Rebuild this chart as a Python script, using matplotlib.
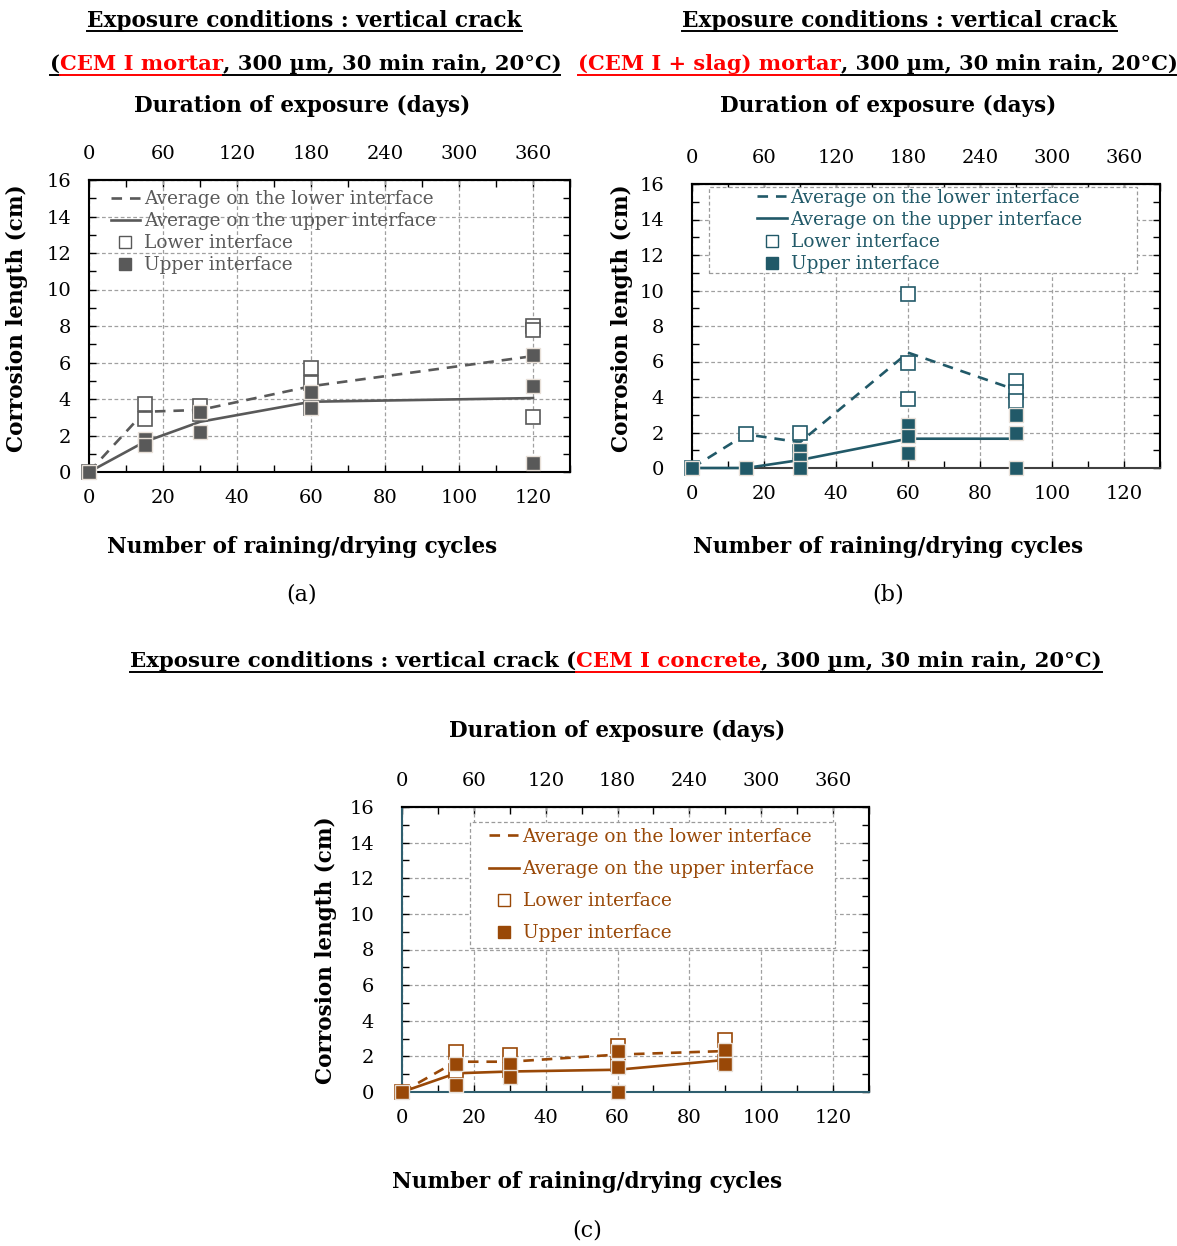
import matplotlib
matplotlib.use('Agg')
import matplotlib.pyplot as plt
from matplotlib.lines import Line2D
from matplotlib.patches import Rectangle
from matplotlib.ticker import MultipleLocator

plt.rcParams['font.family'] = ['DejaVu Serif']

W, H = 1177, 1246

# --- data (cycles, individual measurements, averages) ---
a_cycles = [0, 15, 30, 60, 120]
a_lower = [[0], [3.7, 2.9], [3.6, 3.2], [5.7, 4.9, 3.5], [8.0, 7.8, 3.0]]
a_upper = [[0], [1.8, 1.5], [3.3, 2.2], [4.4, 3.5], [6.4, 4.7, 0.5]]
a_lower_avg = [0, 3.3, 3.4, 4.7, 6.35]
a_upper_avg = [0, 1.65, 2.75, 3.85, 4.05]

b_cycles = [0, 15, 30, 60, 90]
b_lower = [[0], [1.9], [2.0, 0.9], [9.8, 5.9, 3.9], [4.9, 4.3, 3.75]]
b_upper = [[0], [0], [1.0, 0.5, 0], [2.4, 1.8, 0.85], [3.0, 2.0, 0]]
b_lower_avg = [0, 1.9, 1.45, 6.5, 4.4]
b_upper_avg = [0, 0, 0.45, 1.65, 1.65]

c_cycles = [0, 15, 30, 60, 90]
c_lower = [[0], [2.25, 1.2], [2.1, 1.25], [2.6, 1.6], [2.9, 1.7]]
c_upper = [[0], [1.6, 0.4], [1.55, 0.85], [2.3, 1.4, 0], [2.35, 1.6]]
c_lower_avg = [0, 1.7, 1.7, 2.1, 2.3]
c_upper_avg = [0, 1.05, 1.15, 1.25, 1.8]

labels = ['Average on the lower interface', 'Average on the upper interface',
          'Lower interface', 'Upper interface']

fig = plt.figure(figsize=(W / 100, H / 100), dpi=100)
renderer = fig.canvas.get_renderer()


def fx(x):
    return x / W


def fy(y):
    return 1 - y / H


def text_w(s, size, weight='bold'):
    t = fig.text(0, 0, s, fontsize=size, fontweight=weight)
    w = t.get_window_extent(renderer).width
    t.remove()
    return w


def title_line(segs, xc, base, target_w, uline):
    full = ''.join(s for s, c in segs)
    size = 10 * target_w / text_w(full, 10)
    x0 = xc - target_w / 2
    pre = ''
    for s, c in segs:
        xs = x0 + (text_w(pre, size) if pre else 0)
        fig.text(fx(xs), fy(base), s, color=c, fontsize=size, fontweight='bold',
                 ha='left', va='baseline')
        xe = x0 + text_w(pre + s, size)
        fig.add_artist(Line2D([fx(xs), fx(xe)], [fy(uline)] * 2, color=c, lw=1.4))
        pre += s


def flat(cycles, pts):
    xs, ys = [], []
    for c, p in zip(cycles, pts):
        for v in p:
            xs.append(c)
            ys.append(v)
    return xs, ys


def panel(box, cycles, lower, upper, lavg, uavg, color, ypad, spine_col=None):
    l, t, r, b = box
    ax = fig.add_axes([fx(l), fy(b), (r - l) / W, (b - t) / H])
    ax.set_xlim(0, 130)
    ax.set_ylim(0, 16)
    ax.xaxis.set_major_locator(MultipleLocator(20))
    ax.xaxis.set_minor_locator(MultipleLocator(10))
    ax.yaxis.set_major_locator(MultipleLocator(2))
    ax.yaxis.set_minor_locator(MultipleLocator(1))
    ax.grid(True, which='major', color='#a0a0a0', ls=(0, (3, 2)), lw=0.9)
    ax.tick_params(which='both', direction='in', top=False, right=True,
                   length=5, width=1, labelsize=14)
    ax.tick_params(axis='x', pad=12)
    ax.tick_params(axis='y', pad=ypad)
    for sp in ax.spines.values():
        sp.set_linewidth(1.5)
    if spine_col:
        ax.spines['left'].set_color(spine_col)
        ax.spines['bottom'].set_color(spine_col)

    ax.plot(cycles, lavg, color=color, lw=1.9, ls=(0, (4, 3)), zorder=3, clip_on=False)
    ax.plot(cycles, uavg, color=color, lw=1.9, zorder=3, clip_on=False)
    xl, yl = flat(cycles, lower)
    ax.plot(xl, yl, 's', ls='none', ms=9.5, mfc='white', mec=color, mew=1.2,
            zorder=4, clip_on=False)
    xu, yu = flat(cycles, upper)
    ax.plot(xu, yu, 's', ls='none', ms=9.5, mfc=color, mec='#e8e0d8', mew=1.0,
            zorder=5, clip_on=False)

    sec = ax.secondary_xaxis('top', functions=(lambda x: x * 3, lambda d: d / 3))
    sec.set_xticks(range(0, 361, 60))
    sec.xaxis.set_minor_locator(MultipleLocator(30))
    sec.tick_params(which='both', direction='in', length=5, width=1,
                    labelsize=14, pad=12)
    sec.spines['top'].set_linewidth(1.5)
    return ax


def legend(ax, color, anchor, loc, spacing):
    h = [Line2D([], [], color=color, lw=1.9, ls=(0, (4, 3))),
         Line2D([], [], color=color, lw=1.9),
         Line2D([], [], marker='s', ls='none', ms=8, mfc='white', mec=color, mew=1),
         Line2D([], [], marker='s', ls='none', ms=8, mfc=color, mec=color)]
    leg = ax.legend(h, labels, loc=loc, bbox_to_anchor=anchor, frameon=False,
                    fontsize=13.3, labelspacing=spacing, handlelength=1.6,
                    handletextpad=0.2, borderpad=0, borderaxespad=0, labelcolor=color)
    leg.set_zorder(7)
    return leg


def frame_box(ax, box, axbox):
    l, t, r, b = box
    al, at, ar, ab = axbox
    rect = Rectangle(((l - al) / (ar - al), (ab - b) / (ab - at)),
                     (r - l) / (ar - al), (b - t) / (ab - at),
                     transform=ax.transAxes, facecolor='white', edgecolor='#9a9a9a',
                     ls=(0, (3, 2)), lw=0.9, zorder=6)
    ax.add_patch(rect)


# ---------------- panel (a)
gray = '#595959'
box_a = (89, 180, 570, 472)
ax_a = panel(box_a, a_cycles, a_lower, a_upper, a_lower_avg, a_upper_avg, gray, 13)
legend(ax_a, gray, (0.045, 0.965), 'upper left', 0.22)

# ---------------- panel (b)
teal = '#215968'
box_b = (692, 184, 1160, 468)
ax_b = panel(box_b, b_cycles, b_lower, b_upper, b_lower_avg, b_upper_avg, teal, 20)
ax_b.spines['bottom'].set_color('#404040')
frame_box(ax_b, (709, 187, 1137, 273), box_b)
legend(ax_b, teal, ((920 - 692) / 468, (468 - 231) / 284), 'center', 0.23)

# ---------------- panel (c)
brown = '#994807'
box_c = (402, 807, 869, 1092)
ax_c = panel(box_c, c_cycles, c_lower, c_upper, c_lower_avg, c_upper_avg, brown, 20,
             spine_col='#2f5f6f')
frame_box(ax_c, (470, 822, 835, 948), box_c)
legend(ax_c, brown, ((652 - 402) / 467, (1092 - 885) / 285), 'center', 0.76)

# ---------------- titles
red = '#ff0000'
title_line([('Exposure conditions : vertical crack', 'black')], 305, 27, 436, 30.5)
title_line([('(', 'black'), ('CEM I mortar', red),
            (', 300 µm, 30 min rain, 20°C)', 'black')], 305, 70, 510, 75)
title_line([('Exposure conditions : vertical crack', 'black')], 900, 27, 436, 30.5)
title_line([('(CEM I + slag) mortar', red),
            (', 300 µm, 30 min rain, 20°C)', 'black')], 877, 70, 598, 75)
title_line([('Exposure conditions : vertical crack (', 'black'), ('CEM I concrete', red),
            (', 300 µm, 30 min rain, 20°C)', 'black')], 617, 667, 974, 672)

# ---------------- axis labels
bold = dict(fontsize=15.5, fontweight='bold', ha='center', va='center')
for xc, yc in [(302, 106), (888, 106), (617, 731)]:
    fig.text(fx(xc), fy(yc), 'Duration of exposure (days)', **bold)
for xc, yc in [(302, 547), (888, 547), (587, 1182)]:
    fig.text(fx(xc), fy(yc), 'Number of raining/drying cycles', **bold)
for xc, yc in [(17, 318), (622, 318), (326, 950)]:
    fig.text(fx(xc), fy(yc), 'Corrosion length (cm)', rotation=90, **bold)
for xc, yc, s in [(302, 595, '(a)'), (888, 595, '(b)'), (587, 1230, '(c)')]:
    fig.text(fx(xc), fy(yc), s, fontsize=16, ha='center', va='center')

fig.savefig('out.png', dpi=100)
